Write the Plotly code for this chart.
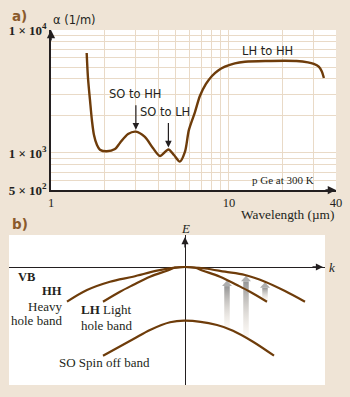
import numpy as np
import plotly.graph_objects as go

# ---------------- data: panel a (absorption of p-Ge at 300 K) ----------------
wavelength_um = [1.587, 1.614, 1.656, 1.70, 1.744, 1.813, 1.884, 2.055, 2.29, 2.44,
                 2.71, 3.0, 3.37, 3.74, 4.1, 4.57, 4.91, 5.3, 5.66, 5.96,
                 6.44, 6.87, 7.43, 8.03, 8.67, 9.5, 10.8, 12.3, 16.0,
                 24.0, 27.8, 30.0, 32.0, 33.3, 34.2]
alpha_per_m = [6500, 4070, 2700, 1820, 1400, 1160, 1064, 1032, 1078, 1206,
               1427, 1490, 1350, 1098, 945, 1068, 963, 850, 1019, 1540,
               2140, 2905, 3640, 4230, 4670, 5030, 5360, 5520, 5600,
               5600, 5460, 5300, 5030, 4590, 4070]

x_tickvals = [1, 2, 3, 4, 5, 6, 7, 8, 9, 10, 20, 30, 40]
x_ticktext = ["1", "", "", "", "", "", "", "", "", "10", "", "", "40"]
y_tickvals = [500, 600, 700, 800, 900, 1000, 2000, 3000, 4000, 5000, 6000, 7000, 8000, 9000, 10000]
y_ticktext = ["<b>5 × 10<sup>2</sup></b>", "", "", "", "", "<b>1 × 10<sup>3</sup></b>",
              "", "", "", "", "", "", "", "", "<b>1 × 10<sup>4</sup></b>"]

transition_labels = ["SO to HH", "SO to LH"]
transition_wavelengths = [3.0, 4.57]

# ---------------- data: panel b (valence band schematic) ----------------
hh_k = [-1.18, -0.98, -0.75, -0.52, -0.28, -0.10, 0.0, 0.20, 0.40, 0.60, 0.80, 1.00, 1.20]
hh_E = [-0.347, -0.23, -0.147, -0.097, -0.037, -0.007, 0.0, -0.015, -0.047, -0.08, -0.147, -0.24, -0.347]
lh_k = [-0.82, -0.65, -0.52, -0.35, -0.18, -0.10, 0.0, 0.10, 0.18, 0.35, 0.52, 0.65, 0.82]
lh_E = [-0.347, -0.247, -0.18, -0.097, -0.037, -0.007, 0.0, -0.007, -0.037, -0.097, -0.18, -0.247, -0.347]
so_k = [-0.82, -0.52, -0.35, -0.15, 0.0, 0.32, 0.48, 0.68, 0.89]
so_E = [-0.887, -0.723, -0.63, -0.553, -0.537, -0.58, -0.637, -0.747, -0.887]

arrow_k = [0.42, 0.61, 0.80]
arrow_from = ["SO", "SO", "LH"]
arrow_to = ["LH", "HH", "HH"]

# ---------------- styling ----------------
W, H = 350, 397
BG = "#EFE4D6"
GRID = "#E9DAC7"
BROWN = "#6E3C0A"
LABEL_BROWN = "#8A5A2C"
INK = "#231F20"
SERIF = "Liberation Serif, Times New Roman, serif"
SANS = "DejaVu Sans, sans-serif"


def P(x, y):
    return x / W, 1 - y / H


fig = go.Figure()

# panel a curve
fig.add_trace(go.Scatter(x=wavelength_um, y=alpha_per_m, mode="lines",
                         line=dict(color=BROWN, width=2.4, shape="spline", smoothing=0.8),
                         xaxis="x", yaxis="y", hoverinfo="skip", showlegend=False))

# panel b transition arrows (gradient shafts + heads)
bands = {"HH": (hh_k, hh_E), "LH": (lh_k, lh_E), "SO": (so_k, so_E)}
shaft_hw, head_hw, head_h = 0.0275, 0.05, 0.055
for k, fb, tb in zip(arrow_k, arrow_from, arrow_to):
    bottom = float(np.interp(k, *bands[fb]))
    top = float(np.interp(k, *bands[tb])) - 0.005
    hb = top - head_h
    fig.add_trace(go.Scatter(
        x=[k - shaft_hw, k - shaft_hw, k + shaft_hw, k + shaft_hw, k - shaft_hw],
        y=[bottom, hb, hb, bottom, bottom], mode="lines", fill="toself",
        line=dict(width=0, color="rgba(0,0,0,0)"),
        fillgradient=dict(type="vertical",
                          colorscale=[[0, "rgba(245,236,225,0.3)"], [1, "rgb(148,148,148)"]],
                          start=bottom, stop=hb),
        xaxis="x2", yaxis="y2", hoverinfo="skip", showlegend=False))
    fig.add_trace(go.Scatter(
        x=[k - head_hw, k, k + head_hw, k - head_hw], y=[hb, top, hb, hb],
        mode="lines", fill="toself", fillcolor="#AEAEAE",
        line=dict(width=0, color="rgba(0,0,0,0)"),
        xaxis="x2", yaxis="y2", hoverinfo="skip", showlegend=False))

for kk, ee in [(hh_k, hh_E), (lh_k, lh_E), (so_k, so_E)]:
    fig.add_trace(go.Scatter(x=kk, y=ee, mode="lines",
                             line=dict(color=BROWN, width=2.2, shape="spline", smoothing=1.0),
                             xaxis="x2", yaxis="y2", hoverinfo="skip", showlegend=False))

ann = []


def text(x, y, s, size=12, family=SERIF, xanchor="center", color=INK):
    px, py = P(x, y)
    ann.append(dict(x=px, y=py, xref="paper", yref="paper", text=s, showarrow=False,
                    xanchor=xanchor, yanchor="middle",
                    font=dict(size=size, family=family, color=color)))


# panel a texts
text(10, 16.5, "<b>a)</b>", 13.5, SANS, "left", LABEL_BROWN)
text(10, 224, "<b>b)</b>", 13.5, SANS, "left", LABEL_BROWN)
text(50.5, 20.5, "α (1/m)", 11.5, SANS, "left")
text(135.5, 94, "SO to HH", 11.5, SANS)
text(165, 112.3, "SO to LH", 11.5, SANS)
text(267, 50.7, "LH to HH", 11.5, SANS)
text(283, 180, "p Ge at 300 K", 11, SERIF)
text(336, 214, "Wavelength (µm)", 13.3, SERIF, "right")

# transition arrows in panel a
for lam in transition_wavelengths:
    a = 10 ** float(np.interp(np.log10(lam), np.log10(wavelength_um), np.log10(alpha_per_m)))
    ann.append(dict(x=np.log10(lam), y=np.log10(a), xref="x", yref="y", text="",
                    showarrow=True, ax=0, ay=-28, arrowhead=2, arrowsize=1.1,
                    arrowwidth=1.2, arrowcolor=INK, standoff=2))

# axis arrows panel a
ann.append(dict(x=0, y=1, xref="x domain", yref="y domain", text="", showarrow=True,
                ax=0, ay=12, arrowhead=2, arrowsize=1.1, arrowwidth=1.5, arrowcolor=INK))
ann.append(dict(x=1, y=0, xref="x domain", yref="y domain", text="", showarrow=True,
                ax=-12, ay=0, arrowhead=2, arrowsize=1.1, arrowwidth=1.5, arrowcolor=INK))
# axis arrows panel b
ann.append(dict(x=0, y=0.30, xref="x2", yref="y2", text="", showarrow=True,
                ax=0, ay=12, arrowhead=2, arrowsize=1.1, arrowwidth=1.3, arrowcolor=INK))
ann.append(dict(x=1.38, y=0, xref="x2", yref="y2", text="", showarrow=True,
                ax=-12, ay=0, arrowhead=2, arrowsize=1.1, arrowwidth=1.3, arrowcolor=INK))

# panel b texts
text(185, 228, "<i>E</i>", 13, SERIF)
text(332, 267, "<i>k</i>", 13, SERIF)
text(16, 276.7, "<b>VB</b>", 12.5, SERIF, "left")
text(63.5, 291, "<b>HH</b>", 12.5, SERIF, "right")
text(63.5, 306.7, "Heavy", 13, SERIF, "right")
text(64, 320.5, "hole band", 13, SERIF, "right")
text(79, 309, "<b>LH</b> Light", 13, SERIF, "left")
text(79, 325, "hole band", 13, SERIF, "left")
text(57, 362.7, "SO Spin off band", 13, SERIF, "left")

ax_x0, ax_y0 = P(51, 190)
ax_x1, ax_y1 = P(336, 30)
bx_x0, bx_y0 = P(9, 385)
bx_x1, bx_y1 = P(325, 235)

fig.update_layout(
    width=W, height=H, autosize=False,
    margin=dict(l=0, r=0, t=0, b=0, pad=0),
    paper_bgcolor=BG, plot_bgcolor="white",
    showlegend=False,
    annotations=ann,
    xaxis=dict(type="log", domain=[ax_x0, ax_x1], range=[0, np.log10(40)],
               tickvals=x_tickvals, ticktext=x_ticktext, ticks="", automargin=False,
               showgrid=True, gridcolor=GRID, gridwidth=1,
               showline=True, linecolor=INK, linewidth=1.5, zeroline=False,
               tickfont=dict(family=SERIF, size=12.5, color=INK), anchor="y"),
    yaxis=dict(type="log", domain=[ax_y0, ax_y1], range=[np.log10(500), 4],
               tickvals=y_tickvals, ticktext=y_ticktext, ticks="", automargin=False,
               showgrid=True, gridcolor=GRID, gridwidth=1,
               showline=True, linecolor=INK, linewidth=1.5, zeroline=False,
               tickfont=dict(family=SERIF, size=13, color=INK), anchor="x"),
    xaxis2=dict(domain=[bx_x0, bx_x1], range=[-1.76, 1.40], showgrid=False,
                zeroline=True, zerolinecolor=INK, zerolinewidth=1.3, automargin=False,
                showticklabels=False, ticks="", showline=False, anchor="y2"),
    yaxis2=dict(domain=[bx_y0, bx_y1], range=[-1.18, 0.32], showgrid=False,
                zeroline=True, zerolinecolor=INK, zerolinewidth=1.3, automargin=False,
                showticklabels=False, ticks="", showline=False, anchor="x2"),
)

fig.write_html("out.html", config={"displayModeBar": False},
               post_script="document.body.style.margin='0';document.body.style.padding='0';")
